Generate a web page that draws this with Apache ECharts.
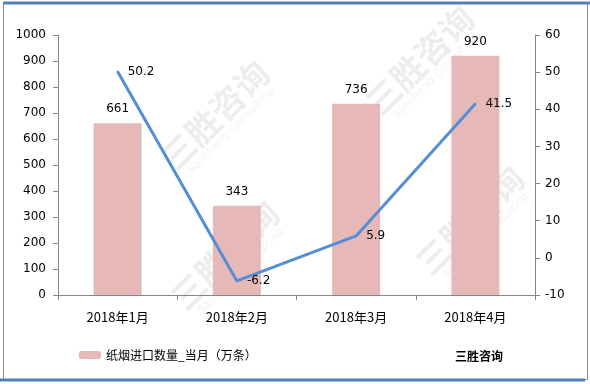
<!DOCTYPE html>
<html><head><meta charset="utf-8">
<script src="https://cdn.jsdelivr.net/npm/echarts@6/dist/echarts.min.js"></script>
<style>html,body{margin:0;padding:0;background:#fff}#c{width:590px;height:384px}</style>
</head><body><div id="c"></div>
<script>
const categories = ['2018年1月','2018年2月','2018年3月','2018年4月'];
const barValues = [661, 343, 736, 920];
const lineValues = [50.2, -6.2, 5.9, 41.5];
const leftTicks = [0, 1000, 100];
const rightTicks = [-10, 60, 10];
const barName = '纸烟进口数量_当月（万条）';
const lineName = '同比增长';

const chart = echarts.init(document.getElementById('c'), null, {renderer:'canvas'});
const numFont = 'DejaVu Sans';
const cjk = '"Noto Sans CJK SC"';
const wm = [];
[[215,115],[420,60],[225,255],[470,220]].forEach(p=>{
  wm.push({type:'text', x:p[0], y:p[1], rotation:Math.PI/4, silent:true, z:-1,
    style:{text:'三胜咨询', font:'bold 34px '+cjk, fill:'rgba(0,0,0,0.07)', align:'center', verticalAlign:'middle'}});
  wm.push({type:'text', x:p[0]+16, y:p[1]+16, rotation:Math.PI/4, silent:true, z:-1,
    style:{text:'Sansheng Consulting', font:'11px '+numFont, fill:'rgba(0,0,0,0.06)', align:'center', verticalAlign:'middle'}});
});
chart.setOption({
  animation:false,
  graphic:[
    {type:'rect', shape:{x:3.5,y:3.5,width:584,height:376}, style:{fill:'none', stroke:'#8c8c8c', lineWidth:1}},
    {type:'line', shape:{x1:3,y1:3,x2:590,y2:3}, style:{stroke:'#4f81bd', lineWidth:3}},
    {type:'line', shape:{x1:0,y1:380,x2:585,y2:380}, style:{stroke:'#4f81bd', lineWidth:3}},
    {type:'text', left:455, top:350, style:{text:'三胜咨询', font:'bold 12px '+cjk, fill:'#000'}}
  ].concat(wm),
  legend:{data:[barName], left:74, top:344, itemWidth:22, itemHeight:8, itemGap:4,
    textStyle:{fontFamily:cjk, fontSize:12, color:'#000'}},
  grid:{left:58, right:55, top:35, bottom:89},
  xAxis:{type:'category', data:categories,
    axisLine:{lineStyle:{color:'#868686'}},
    axisTick:{show:true, alignWithLabel:false, length:5, lineStyle:{color:'#868686'}},
    axisLabel:{fontFamily:cjk, fontSize:13, color:'#000', margin:16}},
  yAxis:[
    {type:'value', min:leftTicks[0], max:leftTicks[1], interval:leftTicks[2],
     axisLine:{show:true, lineStyle:{color:'#868686'}}, axisTick:{show:true, length:5, lineStyle:{color:'#868686'}},
     splitLine:{show:false}, axisLabel:{fontFamily:numFont, fontSize:12, color:'#000', margin:12, formatter:v=>String(v)}},
    {type:'value', min:rightTicks[0], max:rightTicks[1], interval:rightTicks[2], position:'right',
     axisLine:{show:true, lineStyle:{color:'#868686'}}, axisTick:{show:true, length:5, lineStyle:{color:'#868686'}},
     splitLine:{show:false}, axisLabel:{fontFamily:numFont, fontSize:12, color:'#000', margin:10, formatter:v=>String(v)}}
  ],
  series:[
    {name:barName, type:'bar', data:barValues, barWidth:48, itemStyle:{color:'#e6b9b8'},
     label:{show:true, position:'top', distance:8, fontFamily:numFont, fontSize:12, color:'#000'}},
    {name:lineName, type:'line', yAxisIndex:1, data:lineValues,
     symbol:'circle', symbolSize:2, showSymbol:true, itemStyle:{color:'#558ed5'},
     lineStyle:{color:'#558ed5', width:3},
     labelLayout:{hideOverlap:false},
     label:{show:true, position:'right', distance:9, fontFamily:numFont, fontSize:12, color:'#000',
       formatter:p=>p.value.toFixed(1)}}
  ]
});
</script></body></html>
